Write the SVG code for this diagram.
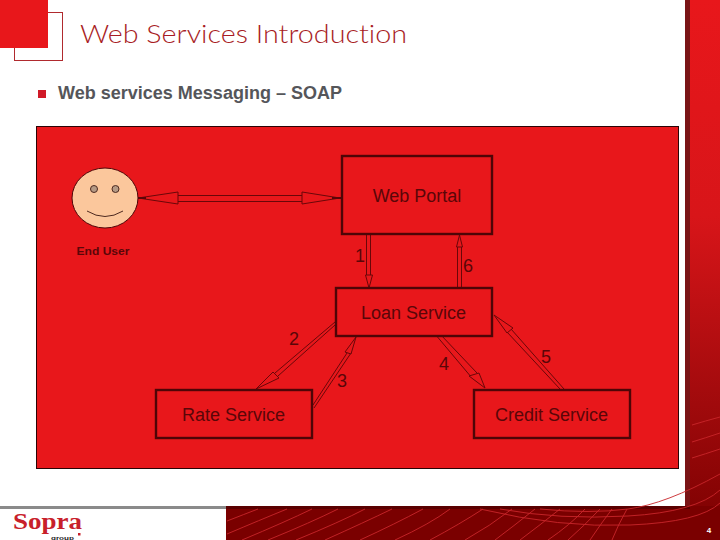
<svg xmlns="http://www.w3.org/2000/svg" width="720" height="540" viewBox="0 0 720 540">
<defs>
<linearGradient id="side" x1="0" y1="0" x2="0" y2="1"><stop offset="0" stop-color="#e8171b"/><stop offset="0.4" stop-color="#d81519"/><stop offset="0.75" stop-color="#a00a0c"/><stop offset="1" stop-color="#7a0000"/></linearGradient>
</defs>
<style>
.node{fill:#e8171b;stroke:#4e0507;stroke-width:2.4}
.label{font-family:"Liberation Sans",Arial,sans-serif;font-size:18px;fill:#5a0608}
.num{font-family:"Liberation Sans",Arial,sans-serif;font-size:18px;fill:#5a0608}
.shaft{fill:none;stroke:#6a0709;stroke-width:1}
.head{fill:#e8171b;stroke:#6a0709;stroke-width:1}
.deco{fill:none;stroke:#c8262a;stroke-width:0.9}
</style>
<rect width="720" height="540" fill="#fff"/>
<g id="background">
<rect x="685" y="0" width="35" height="540" fill="url(#side)"/>
<rect x="685" y="0" width="5" height="510" fill="#7a1416"/>
<rect x="226" y="506" width="494" height="34" fill="#7a0000"/>
<rect x="226" y="506" width="464" height="3" fill="#5a0000"/>
<rect x="0" y="506" width="226" height="3" fill="#8a8a8a"/>
<g class="deco">
<path d="M227 521Q245 514 258 509M227 534Q260 520 287 509M242 540Q285 522 312 509M268 540Q312 522 338 509M296 540Q340 522 365 509M325 540Q365 522 392 509M360 540Q395 524 423 509M395 540Q430 524 450 509M430 540Q460 524 483 509M465 540Q490 526 512 509M495 540Q515 525 535 509M520 540Q540 525 560 509M548 540Q570 525 585 509M568 540Q585 525 600 509M590 540Q600 525 612 509M612 540Q618 525 627 509"/>
<path d="M480 509Q560 528 630 525T720 503M500 509Q560 520 628 516T720 490M540 509Q590 514 628 509T720 474M692 458Q705 454 720 449M692 442Q705 438 720 433M692 425Q705 421 720 417"/>
</g>
</g>
<g id="logo-mark">
<rect x="14.500" y="12.500" width="48" height="48" fill="#fff" stroke="#b02a2e" stroke-width="1"/>
<rect x="0" y="0" width="48" height="48" fill="#e8171b"/>
</g>
<text id="title" x="80" y="43" font-family="Lato,'Liberation Sans',sans-serif" font-size="25" font-weight="300" fill="#a81c24" style="font-variant-ligatures:none" textLength="327" lengthAdjust="spacingAndGlyphs">Web Services Introduction</text>
<rect id="bullet" x="38" y="90" width="8" height="8" fill="#d01a28"/>
<text id="subtitle" x="58" y="99" font-family="'Liberation Sans',Arial,sans-serif" font-size="18" font-weight="700" fill="#55565a" textLength="284" lengthAdjust="spacingAndGlyphs">Web services Messaging – SOAP</text>
<rect id="panel" x="36.500" y="126.500" width="642" height="342" fill="#e8171b" stroke="#2a0406" stroke-width="1"/>
<g id="connectors">
<path class="shaft" d="M178 195.500H302M178 201.500H302"/>
<path class="head" d="M138 198L178 192V204ZM340 198L302 192V204Z"/>
<path d="M138 198H146M332 198H341" stroke="#5a0608" stroke-width="2" fill="none"/>
<path class="shaft" d="M366.500 235V276M370.500 235V276"/>
<path class="head" d="M369 288L365.500 275H372.500Z"/>
<path class="shaft" d="M457.500 246V288M461.500 246V288"/>
<path class="head" d="M459.500 235L456.500 247H462.500Z"/>
<path class="shaft" d="M335 322L275 373M335 325L278 376"/>
<path class="head" d="M256 389L273 372L279 378Z"/>
<path class="shaft" d="M347 353L313 405M351 353L314 408"/>
<path class="head" d="M356 337L345 352L351 354Z"/>
<path class="shaft" d="M435 334L472 378M440 334L477 373"/>
<path class="head" d="M485 388L469 376L479 373Z"/>
<path class="shaft" d="M507 332L560 389M511 329L564 389"/>
<path class="head" d="M494 315L507 333L513 328Z"/>
</g>
<g id="end-user">
<ellipse cx="105" cy="198" rx="33" ry="30" fill="#fbc79c" stroke="#4e0507" stroke-width="1"/>
<circle cx="94" cy="189" r="3.500" fill="#b59a85" stroke="#4e2a20" stroke-width="1"/>
<circle cx="115.500" cy="189" r="3.500" fill="#b59a85" stroke="#4e2a20" stroke-width="1"/>
<path d="M87 211Q105 222 123 211" fill="none" stroke="#4e2a20" stroke-width="1"/>
<text x="76.500" y="254.500" font-family="'Liberation Sans',Arial,sans-serif" font-size="11.500" font-weight="700" fill="#5a0608" textLength="53" lengthAdjust="spacingAndGlyphs">End User</text>
</g>
<g id="web-portal"><rect class="node" x="342" y="156" width="150" height="78"/><text class="label" x="417" y="202" text-anchor="middle">Web Portal</text></g>
<g id="loan-service"><rect class="node" x="336" y="288" width="156" height="48"/><text class="label" x="413.500" y="319" text-anchor="middle">Loan Service</text></g>
<g id="rate-service"><rect class="node" x="156" y="390" width="156" height="48"/><text class="label" x="233.500" y="421" text-anchor="middle">Rate Service</text></g>
<g id="credit-service"><rect class="node" x="474" y="390" width="156" height="48"/><text class="label" x="551.500" y="421" text-anchor="middle">Credit Service</text></g>
<g id="labels">
<text class="num" x="360" y="262" text-anchor="middle">1</text>
<text class="num" x="468" y="272" text-anchor="middle">6</text>
<text class="num" x="294" y="345" text-anchor="middle">2</text>
<text class="num" x="342" y="387" text-anchor="middle">3</text>
<text class="num" x="444" y="370" text-anchor="middle">4</text>
<text class="num" x="546" y="363" text-anchor="middle">5</text>
</g>
<g id="footer">
<text x="13" y="529" font-family="'Liberation Serif',serif" font-size="24" font-weight="700" fill="#c8202a" textLength="69" lengthAdjust="spacingAndGlyphs">Sopra</text>
<text x="51" y="539.500" font-family="'Liberation Sans',sans-serif" font-size="5.500" font-weight="700" fill="#222" textLength="23" lengthAdjust="spacingAndGlyphs">group</text>
<rect x="78" y="533" width="2.500" height="2.500" fill="#c8202a"/>
<text x="709" y="533" text-anchor="middle" font-family="'Liberation Sans',sans-serif" font-size="8" font-weight="700" fill="#fff">4</text>
</g>
</svg>
